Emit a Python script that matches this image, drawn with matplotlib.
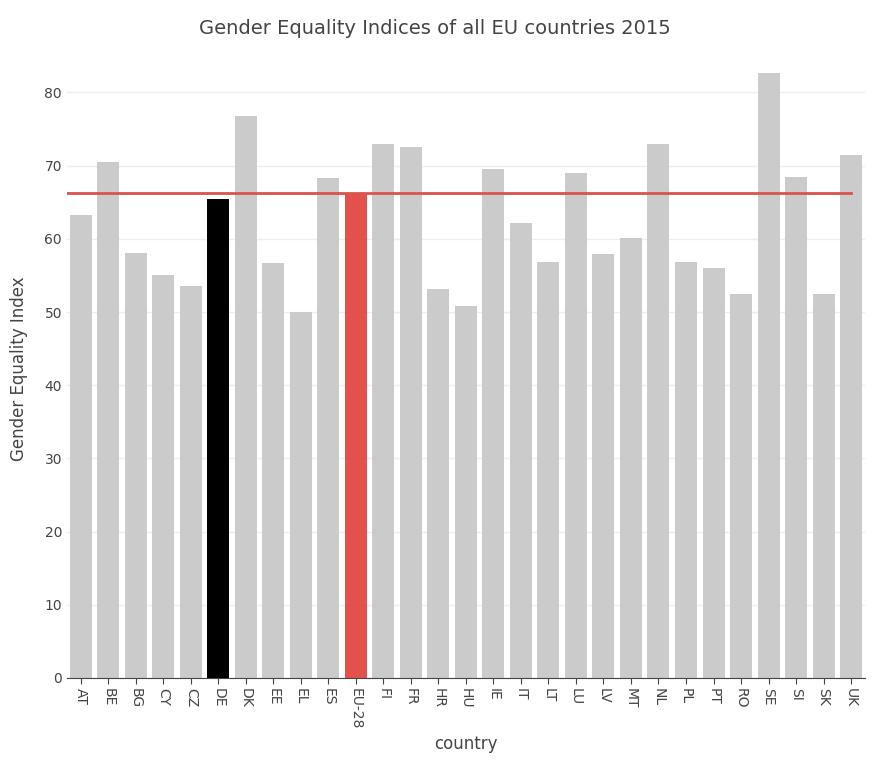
import matplotlib
matplotlib.use("Agg")
import matplotlib.pyplot as plt

countries = ["AT","BE","BG","CY","CZ","DE","DK","EE","EL","ES","EU-28","FI","FR","HR","HU","IE","IT","LT","LU","LV","MT","NL","PL","PT","RO","SE","SI","SK","UK"]
values = [63.3,70.5,58.0,55.1,53.6,65.5,76.8,56.7,50.0,68.3,66.2,73.0,72.6,53.1,50.8,69.5,62.1,56.8,69.0,57.9,60.1,72.9,56.8,56.0,52.4,82.6,68.4,52.4,71.5]
eu_avg = 66.2

colors = []
for c in countries:
    if c == "DE":
        colors.append("black")
    elif c == "EU-28":
        colors.append((0.87, 0.2, 0.18, 0.85))
    else:
        colors.append("#cbcbcb")

fig = plt.figure(figsize=(8.87, 7.64), dpi=100)
ax = fig.add_axes([0.0755, 0.1126, 0.8995, 0.8085])
x = list(range(len(countries)))
ax.bar(x, values, width=0.8, color=colors, zorder=2)
ax.plot([-0.5, len(countries) - 1], [eu_avg, eu_avg], color="#d9534f", lw=2, zorder=3)
ax.set_xlim(-0.5, len(countries) - 0.5)
ax.set_ylim(0, 84.4)
ax.set_yticks(range(0, 81, 10))
ax.grid(axis="y", color="#eeeeee", lw=1, zorder=0)
ax.set_xticks(x)
ax.set_xticklabels(countries, rotation=-90, fontsize=10, color="#444444")
ax.tick_params(axis="y", labelsize=10, colors="#444444", length=0)
ax.tick_params(axis="x", length=4, color="#444444")
for s in ["top", "right", "left"]:
    ax.spines[s].set_visible(False)
ax.spines["bottom"].set_color("#444444")
ax.set_xlabel("country", fontsize=12, color="#444444")
ax.set_ylabel("Gender Equality Index", fontsize=12, color="#444444", labelpad=12)
fig.text(0.49, 0.975, "Gender Equality Indices of all EU countries 2015", ha="center", va="top", fontsize=14, color="#444444")
fig.savefig("out.png", dpi=100)
